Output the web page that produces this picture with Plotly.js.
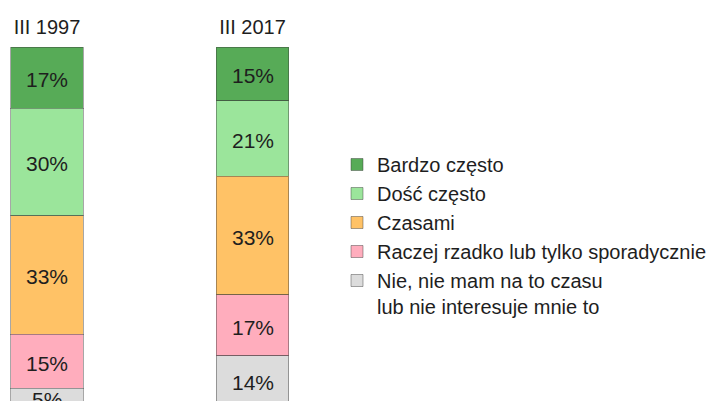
<!DOCTYPE html>
<html>
<head>
<meta charset="utf-8">
<script src="https://cdn.plot.ly/plotly-3.0.1.min.js"></script>
<style>html,body{margin:0;padding:0;overflow:hidden;background:#fff}</style>
</head>
<body>
<div id="chart" style="width:712px;height:401px"></div>
<script>
var categories = ['III 1997', 'III 2017'];
var seriesNames = ['Bardzo często', 'Dość często', 'Czasami', 'Raczej rzadko lub tylko sporadycznie', 'Nie, nie mam na to czasu<br>lub nie interesuje mnie to'];
var bardzoCzesto = [17, 15];
var doscCzesto = [30, 21];
var czasami = [33, 33];
var raczejRzadko = [15, 17];
var nieMam = [5, 14];
var colors = ['#57ab57', '#9be59b', '#ffc266', '#ffadbd', '#dcdcdc'];

var series = [bardzoCzesto, doscCzesto, czasami, raczejRzadko, nieMam];
var traces = [];
series.forEach(function (vals, i) {
  traces.push({
    type: 'bar', x: categories, y: vals, name: seriesNames[i],
    width: 0.352,
    marker: {color: colors[i], line: {color: 'rgba(60,60,60,0.45)', width: 1}},
    hoverinfo: 'skip', showlegend: true
  });
});
// value labels at segment midpoints
var annotations = [];
categories.forEach(function (c, j) {
  var cum = 0;
  series.forEach(function (vals) {
    annotations.push({
      x: c, y: cum + vals[j] / 2, xref: 'x', yref: 'y', text: vals[j] + '%',
      showarrow: false, yshift: -2,
      font: {size: 21, color: '#1e1e1e', family: 'Liberation Sans, Arial, sans-serif'}
    });
    cum += vals[j];
  });
});

var layout = {
  width: 712, height: 401,
  margin: {l: 0, r: 0, t: 47, b: 0, autoexpand: false},
  barmode: 'stack',
  paper_bgcolor: '#fff', plot_bgcolor: '#fff',
  font: {family: 'Liberation Sans, Arial, sans-serif', color: '#1e1e1e'},
  xaxis: {type: 'category', side: 'top', range: [-0.2287, 3.236], autorange: false,
          showgrid: false, zeroline: false, showline: false, ticks: '',
          tickfont: {size: 20, color: '#1e1e1e'}, ticklabelstandoff: 8, fixedrange: true},
  yaxis: {range: [98.6, 0], autorange: false, showgrid: false, zeroline: false, showline: false,
          showticklabels: false, ticks: '', fixedrange: true},
  annotations: annotations,
  showlegend: true,
  legend: {traceorder: 'normal', valign: 'top', x: 337 / 712, xref: 'paper',
           y: (401 - 145) / 354, yref: 'paper', xanchor: 'left', yanchor: 'top',
           font: {size: 20, color: '#1e1e1e'}, bgcolor: 'rgba(0,0,0,0)', borderwidth: 0}
};
Plotly.newPlot('chart', traces, layout, {displayModeBar: false, staticPlot: true});
</script>
</body>
</html>
